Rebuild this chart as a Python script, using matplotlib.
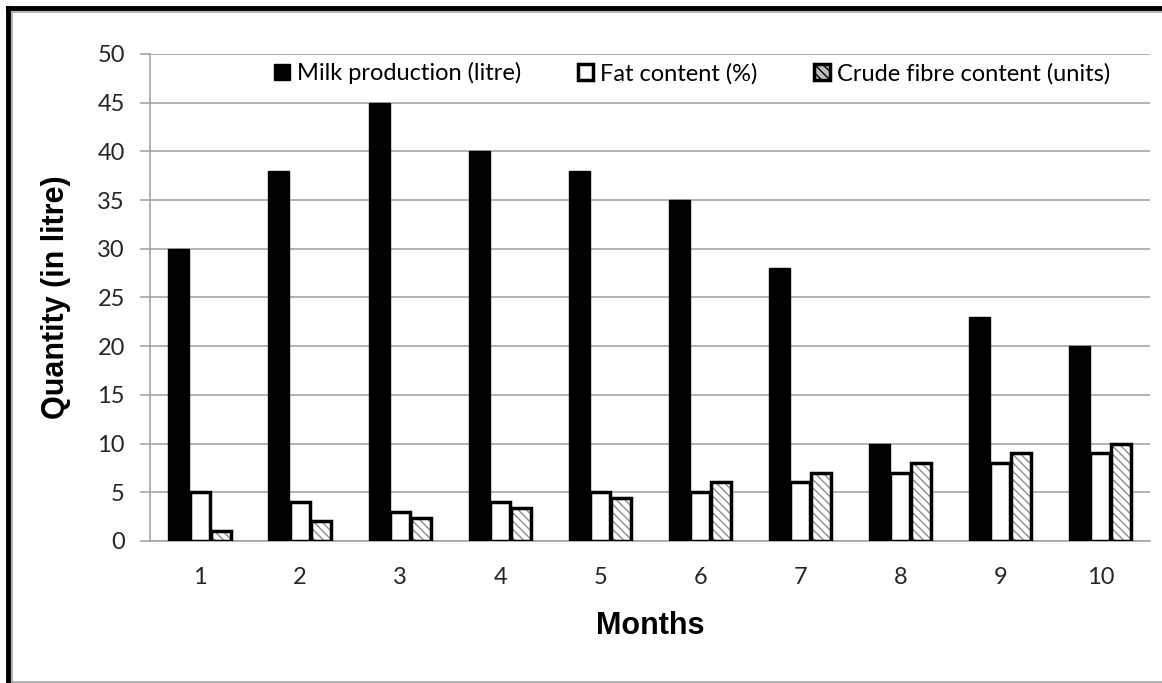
import matplotlib
matplotlib.use("Agg")
import matplotlib.pyplot as plt
from matplotlib.lines import Line2D
from matplotlib.patches import Patch
import numpy as np

months = ["1", "2", "3", "4", "5", "6", "7", "8", "9", "10"]
milk = [30, 38, 45, 40, 38, 35, 28, 10, 23, 20]
fat = [5, 4, 3, 4, 5, 5, 6, 7, 8, 9]
fibre = [1, 2, 2.4, 3.4, 4.4, 6, 7, 8, 9, 10]

labels = ["Milk production (litre)", "Fat content (%)", "Crude fibre content (units)"]
yticks = [0, 5, 10, 15, 20, 25, 30, 35, 40, 45, 50]

TICK_FONT = "Lato"
LABEL_FONT = "Liberation Sans"
TICK_SIZE = 17
GRID = "#a6a6a6"

fig = plt.figure(figsize=(11.62, 6.83), dpi=100)
ax = fig.add_axes([0.129, 0.208, 0.861, 0.713])

x = np.arange(len(months))
w = 0.21

ax.bar(x - w, milk, w, color="black", edgecolor="black", linewidth=1.0,
       label=labels[0], zorder=3)
ax.bar(x, fat, w * 0.95, color="white", edgecolor="black", linewidth=2.5,
       label=labels[1], zorder=3)
# hatch in grey, outline in black: draw the fill and the edge separately
ax.bar(x + w, fibre, w * 0.95, color="white", edgecolor="#8c8c8c", hatch="\\\\\\\\",
       linewidth=0, zorder=3)
ax.bar(x + w, fibre, w * 0.95, fill=False, edgecolor="black", linewidth=2.5, zorder=4)

ax.set_xlim(-0.5, len(months) - 0.5)
ax.set_ylim(0, 50)
ax.set_yticks(yticks)
ax.set_xticks(x)
ax.set_xticklabels(months)
ax.yaxis.grid(True, color=GRID, linewidth=1.2, zorder=0)
ax.set_axisbelow(True)
for side in ["top", "right"]:
    ax.spines[side].set_visible(False)
for side in ["left", "bottom"]:
    ax.spines[side].set_color(GRID)
    ax.spines[side].set_linewidth(1.2)
ax.tick_params(axis="y", length=7, width=1.2, color=GRID, pad=11,
               labelsize=TICK_SIZE, labelcolor="#262626")
ax.tick_params(axis="x", length=0, pad=19, labelsize=TICK_SIZE, labelcolor="#262626")
for t in ax.get_xticklabels() + ax.get_yticklabels():
    t.set_fontfamily(TICK_FONT)

ax.set_xlabel("Months", fontsize=22, fontweight="bold", family=LABEL_FONT, labelpad=16)
ax.set_ylabel("Quantity (in litre)", fontsize=22, fontweight="bold", family=LABEL_FONT, labelpad=19)

# legend handles: plain squares like the original
handles = [
    Patch(facecolor="black", edgecolor="black"),
    Patch(facecolor="white", edgecolor="black", linewidth=2.5),
    Patch(facecolor="#bfbfbf", edgecolor="black", linewidth=2.5, hatch="\\\\\\\\"),
]
ax.legend(handles, labels, loc="upper center", bbox_to_anchor=(0.542, 1.012), ncol=3,
          frameon=False, prop={"family": TICK_FONT, "size": TICK_SIZE},
          handlelength=0.65, handleheight=0.65, handletextpad=0.3, columnspacing=2.4,
          borderaxespad=0.2)

# outer chart frame: thick black on top/left, thin grey inside and at bottom
fig.add_artist(Line2D([8 / 1162, 8 / 1162], [0, 1 - 8 / 683], color="black",
                      linewidth=3.5, transform=fig.transFigure))
fig.add_artist(Line2D([8 / 1162, 1], [1 - 8 / 683, 1 - 8 / 683], color="black",
                      linewidth=3.5, transform=fig.transFigure))
fig.add_artist(Line2D([12 / 1162, 12 / 1162], [1.5 / 683, 1 - 12 / 683], color=GRID,
                      linewidth=1.2, transform=fig.transFigure))
fig.add_artist(Line2D([12 / 1162, 1], [1 - 12 / 683, 1 - 12 / 683], color=GRID,
                      linewidth=1.2, transform=fig.transFigure))
fig.add_artist(Line2D([12 / 1162, 1], [1.5 / 683, 1.5 / 683], color=GRID,
                      linewidth=1.2, transform=fig.transFigure))

fig.savefig("out.png", dpi=100, facecolor="white")
